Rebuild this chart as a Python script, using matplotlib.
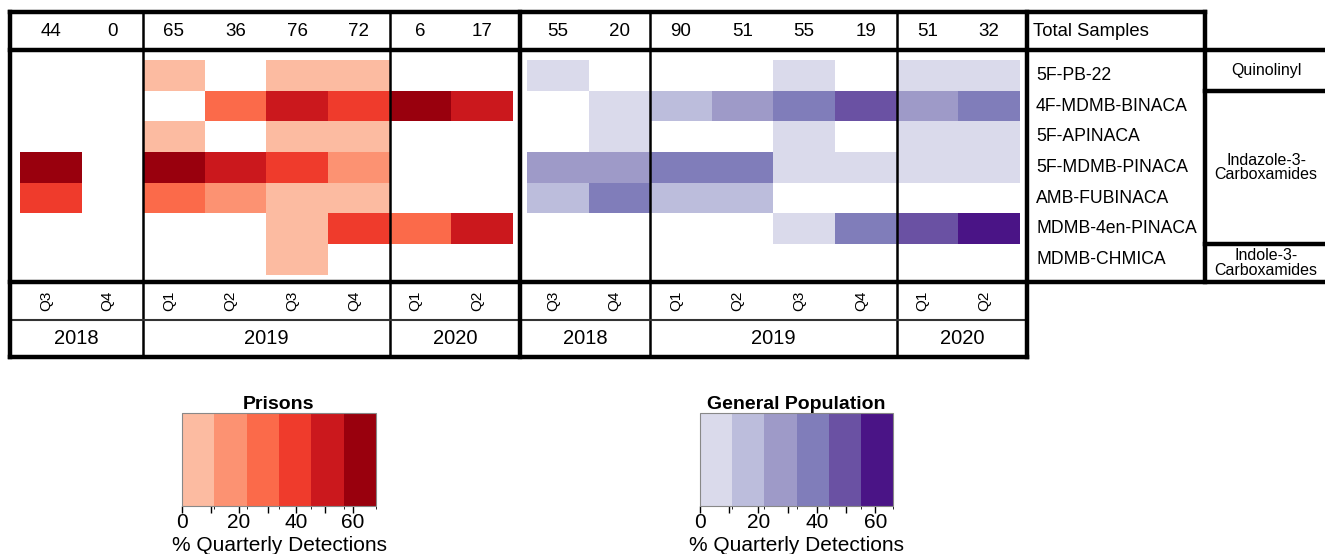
import matplotlib
matplotlib.use('Agg')
import matplotlib.pyplot as plt
import numpy as np
from matplotlib.colors import ListedColormap, BoundaryNorm
from matplotlib.cm import ScalarMappable

plt.rcParams['font.family'] = ['Liberation Sans', 'DejaVu Sans']

# Daten
drugs = ['5F-PB-22', '4F-MDMB-BINACA', '5F-APINACA', '5F-MDMB-PINACA',
         'AMB-FUBINACA', 'MDMB-4en-PINACA', 'MDMB-CHMICA']
quarters = ['Q3', 'Q4', 'Q1', 'Q2', 'Q3', 'Q4', 'Q1', 'Q2']
years = ['2018', '2019', '2020']
year_n = [2, 4, 2]
groups = ['Quinolinyl', 'Indazole-3-\nCarboxamides', 'Indole-3-\nCarboxamides']
group_n = [1, 5, 1]

prison_total = [44, 0, 65, 36, 76, 72, 6, 17]
general_total = [55, 20, 90, 51, 55, 19, 51, 32]

# % quarterly detections (rows = drugs, cols = quarters), 0 = not detected
prison_pct = np.array([
    [0, 0, 3, 0, 3, 3, 0, 0],
    [0, 0, 0, 28, 50, 42, 67, 53],
    [0, 0, 3, 0, 4, 3, 0, 0],
    [61, 0, 60, 50, 39, 15, 0, 0],
    [41, 0, 29, 17, 8, 6, 0, 0],
    [0, 0, 0, 0, 5, 38, 33, 47],
    [0, 0, 0, 0, 3, 0, 0, 0]])
general_pct = np.array([
    [4, 0, 0, 0, 5, 0, 4, 6],
    [0, 5, 14, 25, 36, 47, 27, 38],
    [0, 5, 0, 0, 4, 0, 6, 3],
    [27, 25, 38, 35, 7, 5, 8, 9],
    [16, 35, 13, 14, 0, 0, 0, 0],
    [0, 0, 0, 0, 5, 37, 49, 62],
    [0, 0, 0, 0, 0, 0, 0, 0]])

reds = ['#fcbba1', '#fc9272', '#fb6a4a', '#ef3b2c', '#cb181d', '#99000d']
purples = ['#dadaeb', '#bcbddc', '#9e9ac8', '#807dba', '#6a51a3', '#4a1486']
vmax_prison, vmax_general = 68, 66

# Layout (Pixel)
W, H = 1325, 554
cw, rh = 61.6, 30.7
y_cells = 60
y_top, y_head, y_map, y_q, y_bot = 12, 50, 282, 320, 357
panels = [(10, 520, 20), (520, 1027, 527)]   # border left, border right, first cell
x_names, x_groups = 1027, 1205

fig = plt.figure(figsize=(W / 100, H / 100), dpi=100)

def fa(x, y, w, h):
    return [x / W, 1 - (y + h) / H, w / W, h / H]

sets = [(prison_pct, prison_total, reds, vmax_prison),
        (general_pct, general_total, purples, vmax_general)]

mappables = []
for (pct, tot, cols, vmax), (bl, br, x0) in zip(sets, panels):
    cmap = ListedColormap(cols)
    cmap.set_bad('white')
    norm = BoundaryNorm(np.linspace(0, vmax, len(cols) + 1), cmap.N)
    ax = fig.add_axes(fa(x0, y_cells, 8 * cw, 7 * rh))
    ax.pcolormesh(np.ma.masked_equal(pct, 0), cmap=cmap, norm=norm,
                  edgecolors='none', antialiased=False)
    ax.set_xlim(0, 8)
    ax.set_ylim(7, 0)
    ax.axis('off')
    mappables.append(ScalarMappable(norm=norm, cmap=cmap))

# Rahmen + Text
ov = fig.add_axes([0, 0, 1, 1])
ov.set_xlim(0, W)
ov.set_ylim(H, 0)
ov.axis('off')

def line(x, y, lw=3.2, c='black'):
    ov.plot(x, y, color=c, lw=lw, solid_capstyle='projecting')

for (pct, tot, cols, vmax), (bl, br, x0) in zip(sets, panels):
    for i, n in enumerate(tot):
        cx = x0 + (i + 0.5) * cw
        ov.text(cx, 31, str(n), ha='center', va='center', fontsize=13.5)
        ov.text(cx - 5, 301, quarters[i], ha='center', va='center',
                rotation=90, fontsize=11)
    edges = [bl]
    k = 0
    for n in year_n[:-1]:
        k += n
        edges.append(x0 + k * cw)
    edges.append(br)
    for j, yr in enumerate(years):
        ov.text((edges[j] + edges[j + 1]) / 2, 339, yr, ha='center',
                va='center', fontsize=14.5)
    for xe in edges[1:-1]:
        line([xe, xe], [y_top, y_bot], lw=1.8)

# Aussenlinien
line([10, x_groups], [y_top, y_top])
line([10, W], [y_head, y_head])
line([10, W], [y_map, y_map])
line([10, x_names], [y_q, y_q], lw=1.5, c='#333333')
line([10, x_names], [y_bot, y_bot])
for xv in [10, 520, x_names]:
    line([xv, xv], [y_top, y_bot])
line([x_groups, x_groups], [y_top, y_map])

ov.text(1033, 31, 'Total Samples', ha='left', va='center', fontsize=13.3)
for i, d in enumerate(drugs):
    ov.text(1036, y_cells + (i + 0.5) * rh, d, ha='left', va='center',
            fontsize=12.7)

g_edges = [y_head]
k = 0
for n in group_n[:-1]:
    k += n
    g_edges.append(y_cells + k * rh)
g_edges.append(y_map)
for j, g in enumerate(groups):
    ov.text(1266, (g_edges[j] + g_edges[j + 1]) / 2, g, ha='center',
            va='center', fontsize=11.5, linespacing=0.95)
for ye in g_edges[1:-1]:
    line([x_groups, W], [ye, ye])

# Farbskalen
for sm, (x, w), title in zip(mappables, [(182, 194), (700, 193)],
                             ['Prisons', 'General Population']):
    cax = fig.add_axes(fa(x, 413, w, 93))
    cb = fig.colorbar(sm, cax=cax, orientation='horizontal',
                      ticks=np.arange(0, 61, 10))
    cb.ax.set_xticklabels(['0', '', '20', '', '40', '', '60'])
    cb.ax.tick_params(length=5, width=1, labelsize=15, pad=0)
    cb.outline.set_edgecolor('#888888')
    cb.outline.set_linewidth(0.8)
    cb.set_label('% Quarterly Detections', fontsize=15, labelpad=3)
    cax.set_title(title, fontweight='bold', fontsize=14, pad=3)

plt.savefig('out.png', dpi=100)
